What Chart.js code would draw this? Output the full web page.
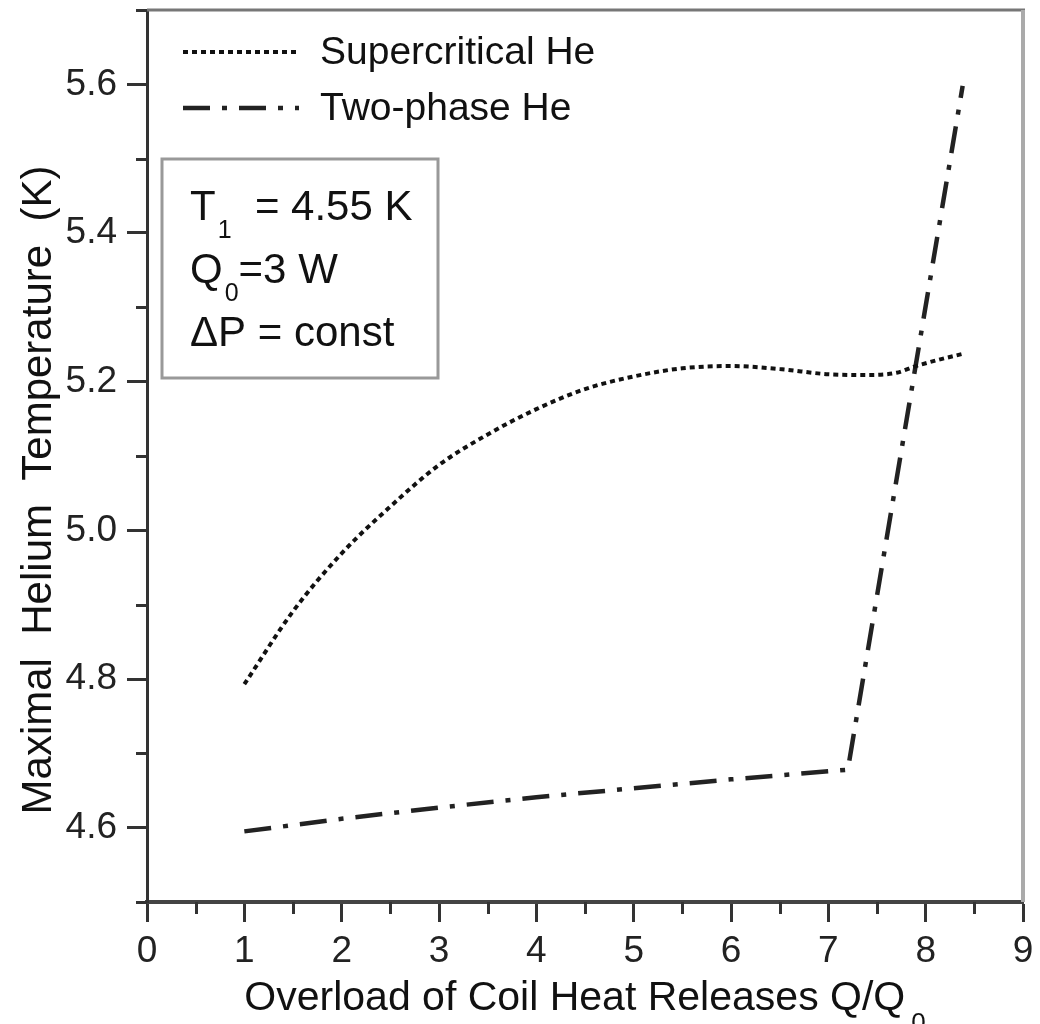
<!DOCTYPE html>
<html>
<head>
<meta charset="utf-8">
<script src="https://cdn.jsdelivr.net/npm/chart.js@4.4.1/dist/chart.umd.min.js"></script>
<style>
  html, body { margin: 0; padding: 0; background: #fff; }
  #wrap { width: 1040px; height: 1024px; position: relative; }
</style>
</head>
<body>
<div id="wrap"><canvas id="chart" width="1040" height="1024"></canvas></div>
<script>
// values
const superX = [1.0, 1.5, 2.0, 2.5, 3.0, 3.5, 4.0, 4.5, 5.0, 5.5, 6.0, 6.5, 7.0, 7.4, 7.7, 7.9, 8.15, 8.4];
const superT = [4.793, 4.891, 4.969, 5.032, 5.088, 5.129, 5.163, 5.190, 5.207, 5.218, 5.221, 5.217, 5.210, 5.209, 5.212, 5.221, 5.230, 5.238];
const twoX = [1.0, 2.0, 3.0, 4.0, 5.0, 6.0, 7.2, 8.38];
const twoT = [4.595, 4.612, 4.627, 4.641, 4.653, 4.665, 4.678, 5.598];

const seriesNames = ['Supercritical He', 'Two-phase He'];
const xTickLabels = ['0', '1', '2', '3', '4', '5', '6', '7', '8', '9'];
const yTickLabels = ['4.6', '4.8', '5.0', '5.2', '5.4', '5.6'];
const xTitle = 'Overload of Coil Heat Releases Q/Q';
const xTitleSub = '0';
const yTitle = 'Maximal  Helium  Temperature  (K)';
// [main, subscript, rest]
const boxLines = [['T', '1', '  = 4.55 K'], ['Q', '0', '=3 W'], ['\u0394P = const', '', '']];

const FONT = "'Liberation Sans', Arial, sans-serif";
const AXIS = '#333';

function line(ctx, x1, y1, x2, y2) {
    ctx.beginPath();
    ctx.moveTo(x1, y1);
    ctx.lineTo(x2, y2);
    ctx.stroke();
}

function isMajorX(v) { return Math.abs(v - Math.round(v)) < 1e-6; }
function yLabel(v) { const s = v.toFixed(1); return yTickLabels.includes(s) ? s : ''; }

const overlay = {
    id: 'overlay',
    afterDraw(chart) {
        const { ctx, chartArea: a, scales } = chart;
        ctx.save();
        ctx.lineCap = 'butt';

        // top and right frame
        ctx.strokeStyle = '#777';
        ctx.lineWidth = 3;
        line(ctx, a.left, a.top, a.right + 2, a.top);
        ctx.strokeStyle = '#aaa';
        ctx.lineWidth = 4;
        line(ctx, a.right, a.top, a.right, a.bottom);

        // minor ticks
        ctx.strokeStyle = AXIS;
        ctx.lineWidth = 3;
        scales.x.ticks.forEach(t => {
            if (!isMajorX(t.value)) {
                const px = Math.round(scales.x.getPixelForValue(t.value)) + 0.5;
                line(ctx, px, a.bottom, px, a.bottom + 12);
            }
        });
        scales.y.ticks.forEach(t => {
            if (!yLabel(t.value)) {
                const py = Math.round(scales.y.getPixelForValue(t.value)) + 0.5;
                line(ctx, a.left - 11, py, a.left, py);
            }
        });

        // legend
        chart.data.datasets.forEach((ds, i) => {
            const yy = a.top + 42 + i * 56;
            ctx.setLineDash(ds.borderDash);
            ctx.lineWidth = ds.borderWidth;
            ctx.strokeStyle = ds.borderColor;
            line(ctx, a.left + 36, yy, a.left + 152, yy);
            ctx.setLineDash([]);
            ctx.fillStyle = '#111';
            ctx.font = '39px ' + FONT;
            ctx.textBaseline = 'alphabetic';
            ctx.textAlign = 'left';
            ctx.fillText(ds.label, a.left + 173, yy + 12);
        });

        // info box
        ctx.strokeStyle = '#999';
        ctx.lineWidth = 3;
        ctx.strokeRect(a.left + 15, a.top + 149, 276, 219);
        ctx.fillStyle = '#111';
        boxLines.forEach((parts, i) => {
            const base = a.top + 210 + i * 63;
            let x = a.left + 43;
            ctx.font = '42px ' + FONT;
            ctx.fillText(parts[0], x, base);
            x += ctx.measureText(parts[0]).width + 2;
            if (parts[1]) {
                ctx.font = '25px ' + FONT;
                ctx.fillText(parts[1], x, base + 18);
                x += ctx.measureText(parts[1]).width;
            }
            if (parts[2]) {
                ctx.font = '42px ' + FONT;
                ctx.fillText(parts[2], x, base);
            }
        });

        // x title with subscript
        ctx.font = '41px ' + FONT;
        const wMain = ctx.measureText(xTitle).width;
        ctx.font = '26px ' + FONT;
        const wSub = ctx.measureText(xTitleSub).width;
        let tx = (a.left + a.right) / 2 - (wMain + wSub + 6) / 2;
        ctx.font = '41px ' + FONT;
        ctx.fillText(xTitle, tx, 1010);
        ctx.font = '26px ' + FONT;
        ctx.fillText(xTitleSub, tx + wMain + 6, 1031);

        // y title
        ctx.translate(51, 490);
        ctx.rotate(-Math.PI / 2);
        ctx.font = '42px ' + FONT;
        ctx.textAlign = 'center';
        ctx.fillText(yTitle, 0, 0);
        ctx.restore();
    }
};

new Chart(document.getElementById('chart'), {
    type: 'line',
    data: {
        datasets: [
            {
                label: seriesNames[0],
                data: superX.map((x, i) => ({ x: x, y: superT[i] })),
                borderColor: '#111',
                borderWidth: 4,
                borderDash: [5, 4],
                borderCapStyle: 'butt',
                cubicInterpolationMode: 'monotone',
                pointRadius: 0,
                fill: false
            },
            {
                label: seriesNames[1],
                data: twoX.map((x, i) => ({ x: x, y: twoT[i] })),
                borderColor: '#222',
                borderWidth: 4.5,
                borderDash: [27, 12, 5, 12],
                borderCapStyle: 'butt',
                tension: 0,
                pointRadius: 0,
                fill: false
            }
        ]
    },
    options: {
        responsive: false,
        animation: false,
        devicePixelRatio: 1,
        layout: { padding: { top: 10, right: 17, left: 0, bottom: 0 } },
        plugins: { legend: { display: false }, tooltip: { enabled: false } },
        scales: {
            x: {
                type: 'linear',
                min: 0,
                max: 9,
                ticks: {
                    stepSize: 0.5,
                    autoSkip: false,
                    maxRotation: 0,
                    padding: 8,
                    color: '#222',
                    font: { family: FONT, size: 37 },
                    callback: v => isMajorX(v) ? xTickLabels[Math.round(v)] : ''
                },
                grid: {
                    drawOnChartArea: false,
                    drawTicks: true,
                    tickLength: 20,
                    tickWidth: 3,
                    tickColor: c => (c.tick && isMajorX(c.tick.value)) ? AXIS : 'rgba(0,0,0,0)'
                },
                border: { display: true, color: '#444', width: 4 },
                afterFit: s => { s.height = 122; s.paddingLeft = 0; s.paddingRight = 0; }
            },
            y: {
                min: 4.5,
                max: 5.7,
                ticks: {
                    stepSize: 0.1,
                    autoSkip: false,
                    padding: 10,
                    color: '#222',
                    font: { family: FONT, size: 37 },
                    callback: v => yLabel(v)
                },
                grid: {
                    drawOnChartArea: false,
                    drawTicks: true,
                    tickLength: 20,
                    tickWidth: 3,
                    tickColor: c => (c.tick && yLabel(c.tick.value)) ? AXIS : 'rgba(0,0,0,0)'
                },
                border: { display: true, color: AXIS, width: 3 },
                afterFit: s => { s.width = 147; s.paddingTop = 0; s.paddingBottom = 0; }
            }
        }
    },
    plugins: [overlay]
});
</script>
</body>
</html>
